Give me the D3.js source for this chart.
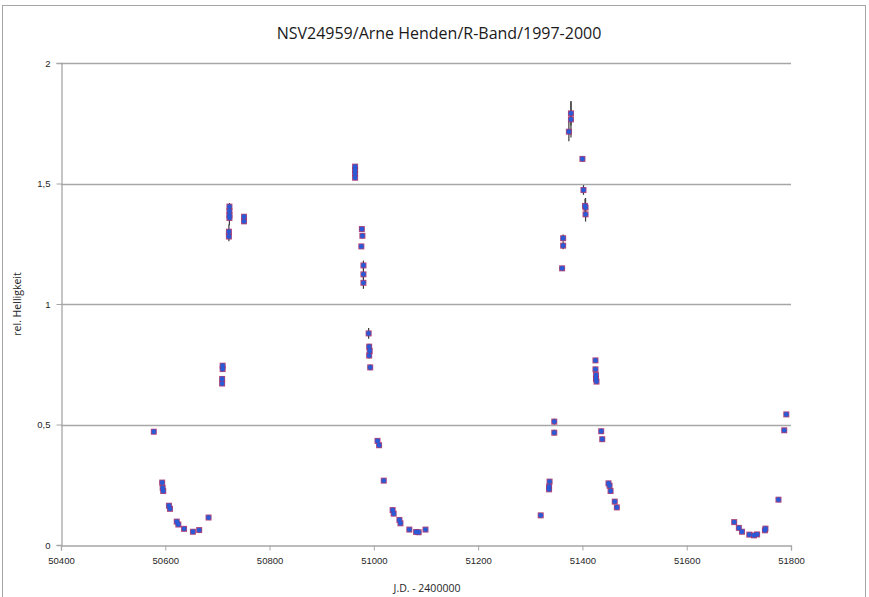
<!DOCTYPE html>
<html>
<head>
<meta charset="utf-8">
<script src="https://cdn.jsdelivr.net/npm/d3@7"></script>
<style>
  body { margin: 0; background: #fff; }
  svg { font-family: "Open Sans", "DejaVu Sans", sans-serif; }
</style>
</head>
<body>
<div id="chart"></div>
<script>
// Julian dates (J.D. - 2400000)
let jd = [
	50578, 50594, 50595, 50596, 50607, 50609, 50622, 50625, 50636, 50653, 50665, 50683,
	50710, 50710, 50709, 50709, 50723, 50723, 50723, 50723, 50722, 50722, 50751, 50751,
	50964, 50964, 50964, 50964, 50977, 50978, 50976, 50980, 50980, 50980,
	50990, 50991, 50992, 50991, 50993, 51007, 51010, 51019, 51036, 51038, 51049, 51051,
	51068, 51081, 51086, 51099,
	51320, 51337, 51336, 51336, 51346, 51346, 51361, 51363, 51363, 51374, 51378, 51378,
	51400, 51402, 51405, 51406, 51406, 51425, 51425, 51426, 51426, 51427, 51436, 51438,
	51450, 51452, 51454, 51462, 51466,
	51691, 51700, 51706, 51720, 51729, 51735, 51750, 51751, 51776, 51787, 51791
];
// relative brightness
let brightness = [
	0.470, 0.259, 0.237, 0.224, 0.163, 0.150, 0.097, 0.085, 0.067, 0.055, 0.062, 0.114,
	0.744, 0.730, 0.689, 0.670, 1.404, 1.385, 1.368, 1.357, 1.300, 1.280, 1.362, 1.343,
	1.570, 1.556, 1.541, 1.524, 1.311, 1.283, 1.239, 1.160, 1.123, 1.088,
	0.878, 0.823, 0.805, 0.786, 0.737, 0.432, 0.414, 0.267, 0.145, 0.130, 0.104, 0.090,
	0.064, 0.054, 0.053, 0.064,
	0.123, 0.263, 0.242, 0.231, 0.512, 0.466, 1.148, 1.273, 1.242, 1.715, 1.791, 1.766,
	1.602, 1.473, 1.407, 1.400, 1.372, 0.766, 0.729, 0.705, 0.689, 0.678, 0.472, 0.439,
	0.256, 0.246, 0.224, 0.180, 0.156,
	0.095, 0.071, 0.055, 0.043, 0.040, 0.044, 0.061, 0.068, 0.188, 0.476, 0.542
];
// error bar half-lengths
let errors = [
	0.008, 0.008, 0.008, 0.008, 0.008, 0.008, 0.008, 0.008, 0.008, 0.008, 0.008, 0.008,
	0.010, 0.010, 0.010, 0.010, 0.015, 0.015, 0.015, 0.030, 0.030, 0.020, 0.010, 0.010,
	0.010, 0.010, 0.010, 0.010, 0.010, 0.010, 0.010, 0.020, 0.020, 0.025,
	0.022, 0.012, 0.012, 0.012, 0.012, 0.008, 0.008, 0.008, 0.008, 0.008, 0.008, 0.008,
	0.008, 0.008, 0.008, 0.008,
	0.008, 0.008, 0.008, 0.008, 0.012, 0.012, 0.010, 0.015, 0.015, 0.040, 0.050, 0.075,
	0.010, 0.020, 0.030, 0.040, 0.030, 0.010, 0.010, 0.010, 0.010, 0.010, 0.010, 0.010,
	0.008, 0.008, 0.008, 0.008, 0.008,
	0.008, 0.008, 0.008, 0.008, 0.008, 0.008, 0.008, 0.008, 0.008, 0.008, 0.008
];
let xTicks = [50400, 50600, 50800, 51000, 51200, 51400, 51600, 51800];
let yTicks = [0, 0.5, 1, 1.5, 2];
let yTickLabels = ["0", "0,5", "1", "1,5", "2"];

let data = jd.map((d, i) => ({jd: d, val: brightness[i], err: errors[i]}));

// set the dimensions and margins of the graph
var margin = {top: 63, right: 78, bottom: 52, left: 61},
	width = 869 - margin.left - margin.right,
	height = 597 - margin.top - margin.bottom;

var root = d3.select("#chart")
	.append("svg")
	.attr("width", 869)
	.attr("height", 597);

// chart border
root.append("rect")
	.attr("x", 2.5).attr("y", 5.5)
	.attr("width", 863).attr("height", 620)
	.attr("fill", "none")
	.attr("stroke", "#a6a6a6")
	.attr("stroke-width", 1);

var svg = root.append("g")
	.attr("transform", "translate(" + margin.left + "," + margin.top + ")");

var x = d3.scaleLinear()
	.domain([50400, 51800])
	.range([0, width]);

var y = d3.scaleLinear()
	.domain([0, 2])
	.range([height, 0]);

// horizontal gridlines
svg.append("g")
	.selectAll("line")
	.data(yTicks.slice(1))
	.join("line")
	.attr("x1", 0).attr("x2", width)
	.attr("y1", d => Math.round(y(d)) + 0.5)
	.attr("y2", d => Math.round(y(d)) + 0.5)
	.attr("stroke", "#a6a6a6")
	.attr("stroke-width", 1.3);

// Y axis
var yAxis = svg.append("g")
	.attr("transform", "translate(0.5,0)")
	.call(d3.axisLeft(y)
		.tickValues(yTicks)
		.tickFormat((d, i) => yTickLabels[i])
		.tickSize(5)
		.tickPadding(6));

// X axis
var xAxis = svg.append("g")
	.attr("transform", "translate(0," + (height + 0.5) + ")")
	.call(d3.axisBottom(x)
		.tickValues(xTicks)
		.tickFormat(d => d)
		.tickSize(5)
		.tickPadding(7));

[yAxis, xAxis].forEach(a => {
	a.select(".domain").attr("stroke", "#a6a6a6").attr("stroke-width", 1.3);
	a.selectAll(".tick line").attr("stroke", "#a6a6a6");
	a.selectAll(".tick text")
		.attr("fill", "#262626")
		.style("font-size", "9.5px");
});

// error bars
svg.append("g")
	.selectAll("line")
	.data(data)
	.join("line")
	.attr("x1", d => x(d.jd)).attr("x2", d => x(d.jd))
	.attr("y1", d => y(d.val + d.err))
	.attr("y2", d => y(d.val - d.err))
	.attr("stroke", "#3a3a3a")
	.attr("stroke-width", 1.2);

// square markers
svg.append("g")
	.selectAll("rect")
	.data(data)
	.join("rect")
	.attr("x", d => x(d.jd) - 3)
	.attr("y", d => y(d.val) - 3)
	.attr("width", 6)
	.attr("height", 6)
	.attr("fill", "#a3336f")
	.attr("opacity", 0.9);

// round markers on top
svg.append("g")
	.selectAll("circle")
	.data(data)
	.join("circle")
	.attr("cx", d => x(d.jd))
	.attr("cy", d => y(d.val))
	.attr("r", 2.4)
	.attr("fill", "#2a5ad6");

// title
root.append("text")
	.attr("x", 439)
	.attr("y", 39)
	.attr("text-anchor", "middle")
	.attr("fill", "#1a1a1a")
	.style("font-size", "16px")
	.text("NSV24959/Arne Henden/R-Band/1997-2000");

// axis titles
root.append("text")
	.attr("x", 427)
	.attr("y", 592)
	.attr("text-anchor", "middle")
	.attr("fill", "#262626")
	.style("font-size", "10.5px")
	.text("J.D. - 2400000");

root.append("text")
	.attr("transform", "translate(21,304) rotate(-90)")
	.attr("text-anchor", "middle")
	.attr("fill", "#262626")
	.style("font-size", "10.5px")
	.text("rel. Helligkeit");
</script>
</body>
</html>
